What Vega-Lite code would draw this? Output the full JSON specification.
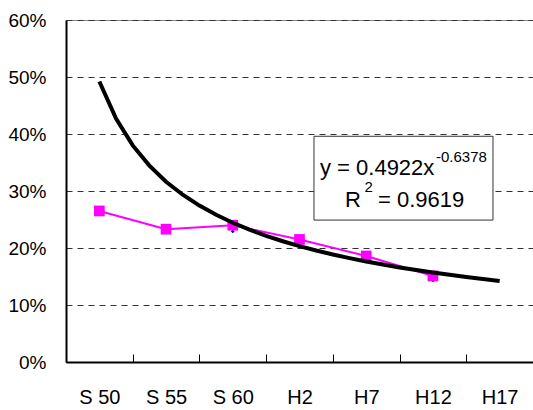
{
  "$schema": "https://vega.github.io/schema/vega-lite/v6.json",
  "width": 467,
  "height": 342,
  "autosize": "none",
  "padding": {"left": 66, "top": 20, "right": 0, "bottom": 48},
  "config": {
    "view": {"stroke": "#888888", "strokeWidth": 1},
    "font": "Liberation Sans"
  },
  "datasets": {
    "obs": [
      {"era": "S50", "rate": 0.265},
      {"era": "S55", "rate": 0.233},
      {"era": "S60", "rate": 0.240},
      {"era": "H2", "rate": 0.215},
      {"era": "H7", "rate": 0.186},
      {"era": "H12", "rate": 0.151}
    ],
    "under": [
      {"era": "S60", "rate": 0.229},
      {"era": "H2", "rate": 0.212},
      {"era": "H7", "rate": 0.178},
      {"era": "H12", "rate": 0.143}
    ],
    "trend": [
      {"t": 1.0, "v": 0.4922}, {"t": 1.25, "v": 0.4269}, {"t": 1.5, "v": 0.3800}, {"t": 1.75, "v": 0.3445},
      {"t": 2.0, "v": 0.3163}, {"t": 2.25, "v": 0.2935}, {"t": 2.5, "v": 0.2744}, {"t": 2.75, "v": 0.2582},
      {"t": 3.0, "v": 0.2443}, {"t": 3.25, "v": 0.2321}, {"t": 3.5, "v": 0.2214}, {"t": 3.75, "v": 0.2119},
      {"t": 4.0, "v": 0.2033}, {"t": 4.25, "v": 0.1956}, {"t": 4.5, "v": 0.1886}, {"t": 4.75, "v": 0.1822},
      {"t": 5.0, "v": 0.1763}, {"t": 5.25, "v": 0.1709}, {"t": 5.5, "v": 0.1659}, {"t": 5.75, "v": 0.1613},
      {"t": 6.0, "v": 0.1570}, {"t": 6.25, "v": 0.1530}, {"t": 6.5, "v": 0.1492}, {"t": 6.75, "v": 0.1456},
      {"t": 7.0, "v": 0.1423}
    ],
    "box": [{"x1": 4.217, "x2": 6.90, "y1": 0.396, "y2": 0.249}],
    "labels": [
      {"tx": 4.307, "ty": 0.328, "txt": "y = 0.4922x", "kind": "main"},
      {"tx": 6.046, "ty": 0.351, "txt": "-0.6378", "kind": "sup"},
      {"tx": 4.682, "ty": 0.272, "txt": "R", "kind": "main"},
      {"tx": 4.975, "ty": 0.299, "txt": "2", "kind": "sup"},
      {"tx": 5.177, "ty": 0.272, "txt": "= 0.9619", "kind": "main"}
    ]
  },
  "layer": [
    {
      "data": {"name": "obs"},
      "mark": {"type": "line", "color": "#FF00FF", "strokeWidth": 2},
      "encoding": {
        "x": {
          "field": "era", "type": "nominal", "bandPosition": 0.5,
          "scale": {"type": "band", "domain": ["S50", "S55", "S60", "H2", "H7", "H12", "H17"], "paddingInner": 0, "paddingOuter": 0},
          "axis": {
            "title": null, "labelAngle": 0, "domainColor": "#000000", "domainWidth": 2,
            "tickBand": "extent", "tickSize": -8, "tickColor": "#000000", "tickWidth": 1,
            "labelFontSize": 20, "labelColor": "#000000", "labelPadding": 33, "grid": false,
            "labelExpr": "datum.value == 'S50' ? 'S 50' : datum.value == 'S55' ? 'S 55' : datum.value == 'S60' ? 'S 60' : datum.value"
          }
        },
        "y": {
          "field": "rate", "type": "quantitative",
          "scale": {"domain": [0, 0.6], "nice": false},
          "axis": {
            "title": null, "format": ".0%", "values": [0, 0.1, 0.2, 0.3, 0.4, 0.5, 0.6],
            "ticks": false, "labelPadding": 20, "labelFontSize": 19, "labelColor": "#000000",
            "domainColor": "#000000", "domainWidth": 2,
            "grid": true, "gridColor": "#333333", "gridDash": [6, 5], "gridWidth": 1
          }
        }
      }
    },
    {
      "data": {"name": "under"},
      "mark": {"type": "point", "shape": "diamond", "filled": true, "color": "#000080", "size": 14, "opacity": 1},
      "encoding": {
        "x": {"field": "era", "type": "nominal", "bandPosition": 0.5, "axis": null,
              "scale": {"type": "band", "domain": ["S50", "S55", "S60", "H2", "H7", "H12", "H17"], "paddingInner": 0, "paddingOuter": 0}},
        "y": {"field": "rate", "type": "quantitative"}
      }
    },
    {
      "data": {"name": "obs"},
      "mark": {"type": "point", "shape": "square", "filled": true, "color": "#FF00FF", "size": 115, "opacity": 1},
      "encoding": {
        "x": {"field": "era", "type": "nominal", "bandPosition": 0.5, "axis": null,
              "scale": {"type": "band", "domain": ["S50", "S55", "S60", "H2", "H7", "H12", "H17"], "paddingInner": 0, "paddingOuter": 0}},
        "y": {"field": "rate", "type": "quantitative"}
      }
    },
    {
      "data": {"name": "trend"},
      "mark": {"type": "line", "color": "#000000", "strokeWidth": 4, "interpolate": "linear"},
      "encoding": {
        "x": {"field": "t", "type": "quantitative", "scale": {"domain": [0.5, 7.5], "nice": false, "zero": false}, "axis": null},
        "y": {"field": "v", "type": "quantitative"}
      }
    },
    {
      "data": {"name": "box"},
      "mark": {"type": "rect", "fill": "#FFFFFF", "stroke": "#333333", "strokeWidth": 1},
      "encoding": {
        "x": {"field": "x1", "type": "quantitative", "scale": {"domain": [0.5, 7.5], "nice": false, "zero": false}, "axis": null},
        "x2": {"field": "x2"},
        "y": {"field": "y1", "type": "quantitative"},
        "y2": {"field": "y2"}
      }
    },
    {
      "data": {"name": "labels"},
      "mark": {"type": "text", "align": "left", "baseline": "alphabetic", "color": "#000000"},
      "encoding": {
        "x": {"field": "tx", "type": "quantitative", "scale": {"domain": [0.5, 7.5], "nice": false, "zero": false}, "axis": null},
        "y": {"field": "ty", "type": "quantitative"},
        "text": {"field": "txt"},
        "size": {"field": "kind", "type": "nominal", "scale": {"domain": ["main", "sup"], "range": [22, 15]}, "legend": null}
      }
    }
  ],
  "resolve": {"scale": {"x": "independent"}}
}
